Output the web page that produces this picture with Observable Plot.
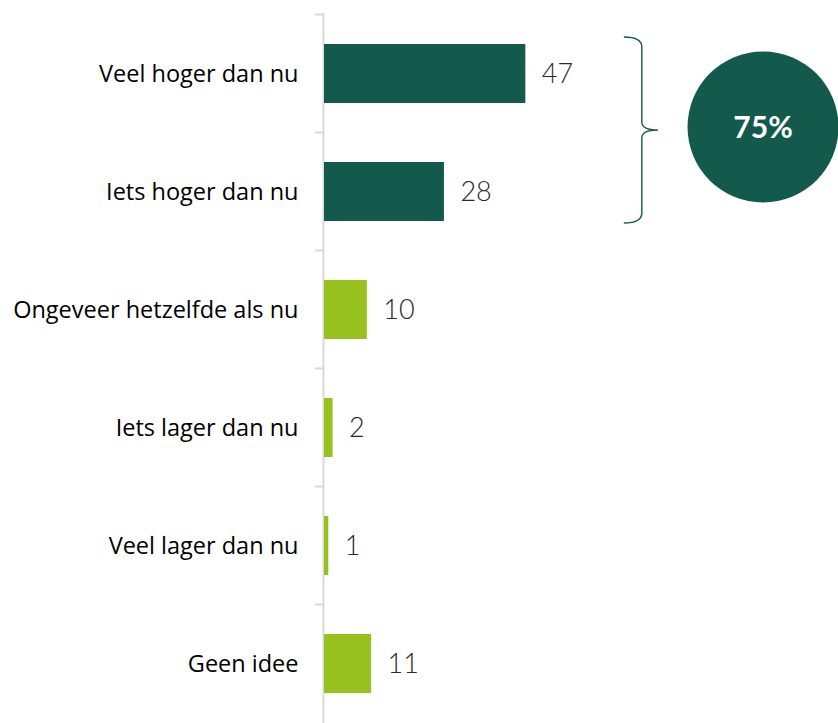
<!DOCTYPE html>
<html>
<head>
<meta charset="utf-8">
<script src="https://cdn.jsdelivr.net/npm/d3@7"></script>
<script src="https://cdn.jsdelivr.net/npm/@observablehq/plot@0.6"></script>
<style>
  html, body { margin: 0; padding: 0; background: #fff; }
  #chart { width: 838px; height: 723px; }
</style>
</head>
<body>
<div id="chart"></div>
<script>
const categories = ["Veel hoger dan nu", "Iets hoger dan nu", "Ongeveer hetzelfde als nu", "Iets lager dan nu", "Veel lager dan nu", "Geen idee"];
const values = [47, 28, 10, 2, 1, 11];
const groups = ["hoger", "hoger", "other", "other", "other", "other"];
const highlightCategories = ["Veel hoger dan nu", "Iets hoger dan nu"];
const highlightLabel = "75%";
const highlightX = 102.5; // x position of the highlight circle in value units
const braceX = 70;        // x position of the brace in value units

const DARK = "#135a4c";
const LIGHT = "#97c11f";

const data = categories.map((c, i) => ({category: c, value: values[i], group: groups[i]}));

const plot = Plot.plot({
  width: 838,
  height: 723,
  marginTop: 13,
  marginBottom: 0,
  marginLeft: 324,
  marginRight: 0,
  style: {fontFamily: "'Open Sans', sans-serif", background: "#fff"},
  x: {domain: [0, 120], axis: null},
  y: {domain: categories, paddingInner: 0.5, paddingOuter: 0.25, axis: null},
  color: {domain: ["hoger", "other"], range: [DARK, LIGHT]},
  marks: [
    Plot.ruleX([0], {stroke: "#d9d9d9", strokeWidth: 2, dx: -1}),
    Plot.axisY({label: null, tickSize: 0, tickPadding: 26, fontSize: 23.5, fill: "#000", fontFamily: "'Open Sans', sans-serif"}),
    Plot.barX(data, {x: "value", y: "category", fill: "group"}),
    Plot.text(data, {x: "value", y: "category", text: d => String(d.value), dx: 16, textAnchor: "start",
      fontSize: 27, fontWeight: 300, fill: "#2a2a2a", fontFamily: "Lato, 'Open Sans', sans-serif"})
  ]
});

document.getElementById("chart").appendChild(plot);

// Decorations via the plot's own scales
const xs = plot.scale("x");
const ys = plot.scale("y");
const bw = ys.bandwidth;
const step = ys.step;
const svg = d3.select(plot);

// tick marks at band boundaries
const g = svg.append("g");
categories.forEach(c => {
  const yb = ys.apply(c) - (step - bw) / 2;
  const x0 = xs.apply(0);
  g.append("line").attr("x1", x0 - 9).attr("x2", x0 - 1).attr("y1", yb).attr("y2", yb)
    .attr("stroke", "#d9d9d9").attr("stroke-width", 2);
});

// brace
const braceTop = ys.apply(highlightCategories[0]) - 7;
const braceBot = ys.apply(highlightCategories[highlightCategories.length - 1]) + bw + 2;
const braceMid = (braceTop + braceBot) / 2;
const bx = xs.apply(braceX);
const bw2 = 18;
const bracePath = `M${bx},${braceTop} Q${bx + bw2},${braceTop} ${bx + bw2},${braceTop + 10} L${bx + bw2},${braceMid - 8} Q${bx + bw2},${braceMid} ${bx + bw2 + 16},${braceMid} Q${bx + bw2},${braceMid} ${bx + bw2},${braceMid + 8} L${bx + bw2},${braceBot - 10} Q${bx + bw2},${braceBot} ${bx},${braceBot}`;
svg.append("path").attr("d", bracePath).attr("fill", "none").attr("stroke", DARK).attr("stroke-width", 1.4);

// circle
const cx = xs.apply(highlightX);
const cy = braceMid - 3;
svg.append("circle").attr("cx", cx).attr("cy", cy).attr("r", 75.5).attr("fill", DARK);
svg.append("text").attr("x", cx).attr("y", cy).attr("dy", "0.36em").attr("text-anchor", "middle")
  .attr("fill", "#fff").attr("font-size", 30).attr("font-weight", 700)
  .attr("font-family", "Lato, 'Open Sans', sans-serif").text(highlightLabel);
</script>
</body>
</html>
